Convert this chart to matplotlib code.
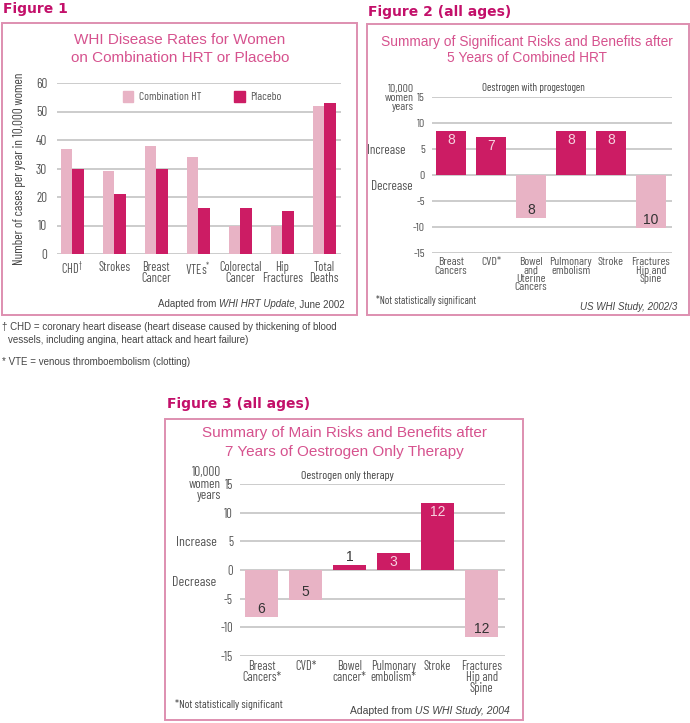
import matplotlib
matplotlib.use("Agg")
import matplotlib.pyplot as plt
from matplotlib.patches import Rectangle
import numpy as np

# ---- data ----
fig1_cats = ['CHD$^{\\dagger}$', 'Strokes', 'Breast\nCancer', 'VTEs$^{*}$',
             'Colorectal\nCancer', 'Hip\nFractures', 'Total\nDeaths']
fig1_hrt = [37, 29, 38, 34, 10, 10, 52]
fig1_placebo = [30, 21, 30, 16, 16, 15, 53]
fig1_ticks = [0, 10, 20, 30, 40, 50, 60]

fig2_cats = ['Breast\nCancers', 'CVD*', 'Bowel\nand\nUterine\nCancers',
             'Pulmonary\nembolism', 'Stroke', 'Fractures\nHip and\nSpine']
fig2_vals = [8.5, 7.3, -8.3, 8.5, 8.5, -10.2]
fig2_labels = ['8', '7', '8', '8', '8', '10']

fig3_cats = ['Breast\nCancers*', 'CVD*', 'Bowel\ncancer*', 'Pulmonary\nembolism*',
             'Stroke', 'Fractures\nHip and\nSpine']
fig3_vals = [-8.2, -5.2, 0.9, 3.0, 11.7, -11.7]
fig3_labels = ['6', '5', '1', '3', '12', '12']

risk_ticks = [-15, -10, -5, 0, 5, 10, 15]

# ---- style ----
DARK = '#cc1c64'
LIGHT = '#e8b3c5'
BOX = '#de8fb0'
TITLE = '#d6528e'
HEAD = '#c3106a'
GRID = '#cccccc'
GREY = '#555555'
NARROW = ['Barlow Condensed', 'DejaVu Sans']
SANS = ['Liberation Sans', 'DejaVu Sans']
plt.rcParams['font.family'] = NARROW
plt.rcParams['mathtext.fontset'] = 'custom'
plt.rcParams['mathtext.rm'] = 'Barlow Condensed'
plt.rcParams['axes.unicode_minus'] = False

W, H = 690, 723
fig = plt.figure(figsize=(6.9, 7.23), dpi=100)


def fx(px):
    return px / W


def fy(py):
    return 1 - py / H


def add_ax(l, t, r, b):
    return fig.add_axes([fx(l), fy(b), (r - l) / W, (b - t) / H])


def box(l, t, r, b):
    fig.add_artist(Rectangle((fx(l), fy(b)), (r - l) / W, (b - t) / H,
                             transform=fig.transFigure, fill=False,
                             ec=BOX, lw=1.4))


def txt(x, y, s, **kw):
    kw.setdefault('va', 'center')
    return fig.text(fx(x), fy(y), s, **kw)


renderer = fig.canvas.get_renderer()


def rich_right(xr, y, parts, **kw):
    # parts drawn right to left so the block ends at xr
    x = xr
    for s, style in reversed(parts):
        t = txt(x, y, s, ha='right', style=style, **kw)
        x -= t.get_window_extent(renderer).width


def style_ax(ax, ticks, size):
    for sp in ax.spines.values():
        sp.set_visible(False)
    ax.set_yticks(ticks)
    ax.yaxis.grid(True, color=GRID, lw=1.4)
    ax.set_axisbelow(True)
    ax.tick_params(length=0, colors=GREY, labelsize=size)
    ax.set_facecolor('none')


# ================= Figure 1 =================
txt(3, 9, 'Figure 1', family='DejaVu Sans', weight='bold', size=10, color=HEAD)
box(2, 23, 357, 315)
txt(180, 40, 'WHI Disease Rates for Women', ha='center', family=SANS, size=11, color=TITLE)
txt(180, 58, 'on Combination HRT or Placebo', ha='center', family=SANS, size=11, color=TITLE)

ax1 = add_ax(57, 83, 341, 254)
x1 = np.arange(len(fig1_cats))
ax1.bar(x1 - 0.14, fig1_hrt, width=0.27, color=LIGHT)
ax1.bar(x1 + 0.14, fig1_placebo, width=0.27, color=DARK)
ax1.set_ylim(0, 60)
ax1.set_xlim(-0.36, 6.4)
style_ax(ax1, fig1_ticks, 9.5)
ax1.tick_params(axis='y', pad=7)
ax1.set_xticks(x1)
ax1.set_xticklabels(fig1_cats, fontsize=9, linespacing=0.85)
ax1.tick_params(axis='x', pad=5)
ax1.set_ylabel('Number of cases per year in 10,000 women', fontsize=9.5, color='#444444', labelpad=7)

# legend
fig.add_artist(Rectangle((fx(123), fy(102)), 10 / W, 11 / H, transform=fig.transFigure, color=LIGHT))
txt(139, 97, 'Combination HT', size=8.3, color=GREY)
fig.add_artist(Rectangle((fx(234), fy(102)), 11 / W, 11 / H, transform=fig.transFigure, color=DARK))
txt(250, 97, 'Placebo', size=8.3, color=GREY)

rich_right(345, 304, [('Adapted from ', 'normal'), ('WHI HRT Update', 'italic'),
                      (', June 2002', 'normal')], family=SANS, size=7, color='#444444')

txt(2, 327, '\u2020 CHD = coronary heart disease (heart disease caused by thickening of blood',
    family=SANS, size=7, color='#444444')
txt(8, 340, 'vessels, including angina, heart attack and heart failure)',
    family=SANS, size=7, color='#444444')
txt(2, 362, '* VTE = venous thromboembolism (clotting)', family=SANS, size=7, color='#444444')


# ================= risk panels =================
def risk_panel(ax, vals, labels, cats, width, size):
    x = np.arange(len(vals))
    cols = [DARK if v > 0 else LIGHT for v in vals]
    ax.bar(x, vals, width=width, color=cols)
    ax.set_ylim(-15, 15)
    style_ax(ax, risk_ticks, size)
    ax.tick_params(axis='y', pad=5)
    ax.set_xticks(x)
    ax.set_xticklabels(cats, fontsize=size, linespacing=0.8, va='top')
    ax.tick_params(axis='x', pad=3)
    for xi, v, lab in zip(x, vals, labels):
        if 0 < v < 2:
            ax.annotate(lab, (xi, v), xytext=(0, 8), textcoords='offset pixels',
                        ha='center', va='center', family=SANS, fontsize=10, color='#333333')
        elif v > 0:
            ax.annotate(lab, (xi, v), xytext=(0, -9), textcoords='offset pixels',
                        ha='center', va='center', family=SANS, fontsize=10, color='#f6d3df')
        else:
            ax.annotate(lab, (xi, v), xytext=(0, 8), textcoords='offset pixels',
                        ha='center', va='center', family=SANS, fontsize=10, color='#333333')


# ================= Figure 2 =================
txt(368, 12, 'Figure 2 (all ages)', family='DejaVu Sans', weight='bold', size=10, color=HEAD)
box(367, 24, 689, 315)
txt(527, 42, 'Summary of Significant Risks and Benefits after', ha='center', family=SANS, size=9.9, color=TITLE)
txt(527, 58, '5 Years of Combined HRT', ha='center', family=SANS, size=9.9, color=TITLE)
ax2 = add_ax(432, 97, 672, 253)
risk_panel(ax2, fig2_vals, fig2_labels, fig2_cats, 0.75, 8.5)
ax2.set_xlim(-0.475, 5.525)
txt(533, 88, 'Oestrogen with progestogen', ha='center', size=7.8, color='#444444')
txt(414, 98, '10,000\nwomen\nyears', ha='right', size=8.5, color=GREY, linespacing=0.85)
txt(405, 150, 'Increase', ha='right', size=9.5, color=GREY)
txt(413, 187, 'Decrease', ha='right', size=9.5, color=GREY)
txt(376, 300, '*Not statistically significant', size=7.6, color='#444444')
txt(677, 307, 'US WHI Study, 2002/3', ha='right', style='italic', family=SANS, size=7, color='#444444')

# ================= Figure 3 =================
txt(167, 404, 'Figure 3 (all ages)', family='DejaVu Sans', weight='bold', size=10, color=HEAD)
box(165, 419, 523, 720)
txt(344, 433, 'Summary of Main Risks and Benefits after', ha='center', family=SANS, size=11, color=TITLE)
txt(344, 452, '7 Years of Oestrogen Only Therapy', ha='center', family=SANS, size=11, color=TITLE)
ax3 = add_ax(240, 484, 505, 656)
risk_panel(ax3, fig3_vals, fig3_labels, fig3_cats, 0.75, 9)
ax3.set_xlim(-0.49, 5.53)
txt(347, 476, 'Oestrogen only therapy', ha='center', size=8.5, color='#444444')
txt(221, 484, '10,000\nwomen\nyears', ha='right', size=9.5, color=GREY, linespacing=0.85)
txt(217, 543, 'Increase', ha='right', size=10, color=GREY)
txt(216, 583, 'Decrease', ha='right', size=10, color=GREY)
txt(175, 705, '*Not statistically significant', size=8.2, color='#444444')
rich_right(510, 711, [('Adapted from ', 'normal'), ('US WHI Study, 2004', 'italic')],
           family=SANS, size=7.5, color='#444444')

fig.savefig('out.png', dpi=100)
